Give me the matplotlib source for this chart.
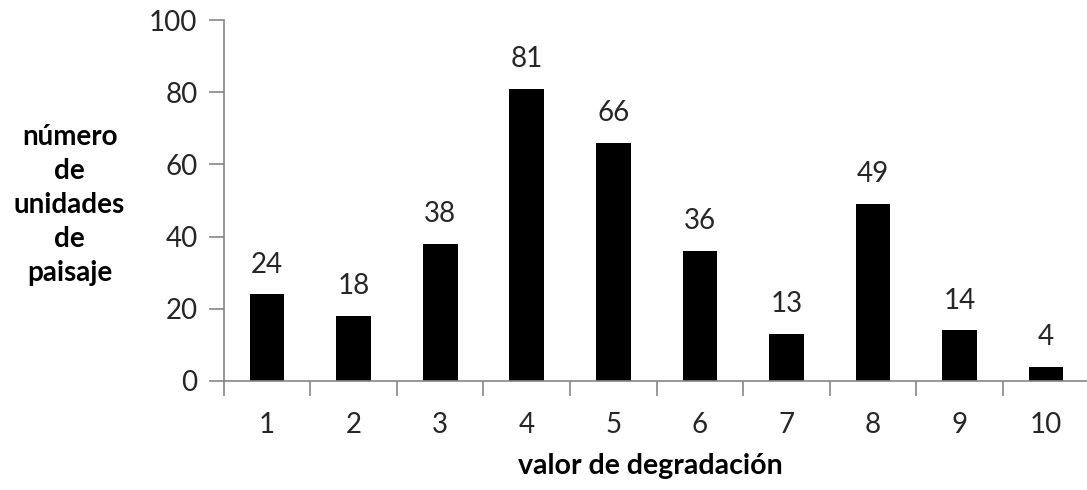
"""Bar chart: número de unidades de paisaje por valor de degradación."""
import numpy as np
import matplotlib.pyplot as plt
from matplotlib.ticker import FixedLocator

categories = ["1", "2", "3", "4", "5", "6", "7", "8", "9", "10"]
counts = [24, 18, 38, 81, 66, 36, 13, 49, 14, 4]
y_ticks = [0, 20, 40, 60, 80, 100]

plt.rcParams["font.family"] = ["Lato", "DejaVu Sans"]

fig = plt.figure(figsize=(10.87, 4.9), dpi=100)
axe = fig.add_axes([0.206, 0.2225, 0.796, 0.7365])

x = np.arange(len(categories))
bars = axe.bar(x, counts, width=0.40, color="black")

for rect, val in zip(bars, counts):
    axe.annotate(str(val), (rect.get_x() + rect.get_width() / 2, rect.get_height()),
                 xytext=(0, 12), textcoords="offset points",
                 ha="center", va="bottom", fontsize=20, color="#262626")

axe.set_xlim(-0.5, len(categories) - 0.5)
axe.set_ylim(0, 100)
axe.set_yticks(y_ticks)
axe.set_xticks(x)
axe.set_xticklabels(categories)
axe.xaxis.set_minor_locator(FixedLocator(np.arange(-0.5, len(categories), 1.0)))

grey = "#868686"
for side in ("top", "right"):
    axe.spines[side].set_visible(False)
for side in ("left", "bottom"):
    axe.spines[side].set_color(grey)
    axe.spines[side].set_linewidth(1.2)

axe.tick_params(axis="y", direction="out", length=11, width=1.2, color=grey,
                labelsize=20, labelcolor="#262626", pad=8)
axe.tick_params(axis="x", which="major", length=0, labelsize=20,
                labelcolor="#262626", pad=22)
axe.tick_params(axis="x", which="minor", direction="out", length=11,
                width=1.2, color=grey)

fig.text(0.064, 0.582, "número\nde\nunidades\nde\npaisaje", ha="center", va="center",
         fontsize=20, fontweight="bold", color="black", linespacing=1.38)
fig.text(0.598, 0.05, "valor de degradación", ha="center", va="center",
         fontsize=20.5, fontweight="bold", color="black")

fig.savefig("out.png", dpi=100)
